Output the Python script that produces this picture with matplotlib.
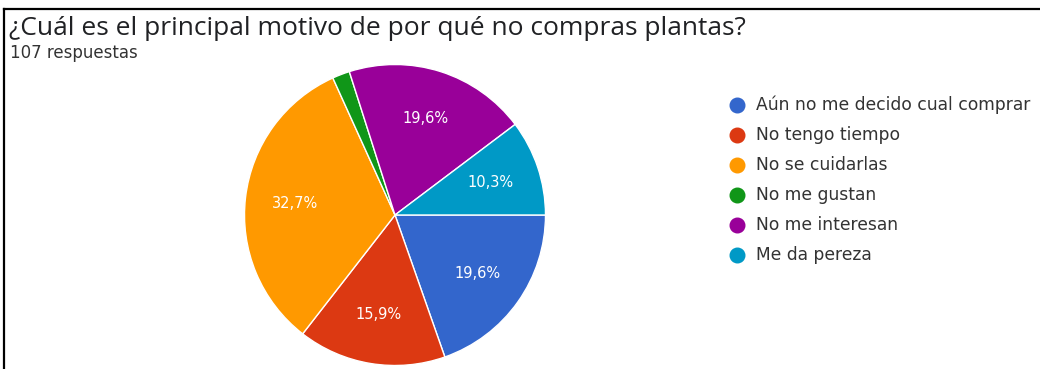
import matplotlib
matplotlib.use("Agg")
import matplotlib.pyplot as plt
from matplotlib.lines import Line2D

# respuestas de la encuesta
motivos = ['Aún no me decido cual comprar', 'No tengo tiempo', 'No se cuidarlas',
           'No me gustan', 'No me interesan', 'Me da pereza']
respuestas = [21, 17, 35, 2, 21, 11]
colores = ['#3366CC', '#DC3912', '#FF9900', '#109618', '#990099', '#0099C6']

titulo = '¿Cuál es el principal motivo de por qué no compras plantas?'
subtitulo = '107 respuestas'

W, H = 1040, 369
fig = plt.figure(figsize=(W / 100, H / 100), dpi=100)
fig.patch.set_facecolor('white')


def px(x, y):
    # pixeles (desde arriba a la izquierda) -> coordenadas de figura
    return x / W, 1 - y / H


# marco negro arriba y a la izquierda
fig.add_artist(Line2D([4 / W, 4 / W], [0, 1 - 9 / H], color='black', lw=1.6,
                      transform=fig.transFigure))
fig.add_artist(Line2D([4 / W, 1], [1 - 9 / H, 1 - 9 / H], color='black', lw=1.6,
                      transform=fig.transFigure))

fig.text(*px(9, 35), titulo, fontsize=19, family='Open Sans',
         color='#202124', va='baseline')
fig.text(*px(10, 58), subtitulo, fontsize=12, family='DejaVu Sans',
         color='#333333', va='baseline')

# tarta
cx, cy, r = 395, 215, 152
ax = fig.add_axes([(cx - r) / W, (H - cy - r) / H, 2 * r / W, 2 * r / H])


def etiqueta(p):
    if p < 5:
        return ''
    return f'{p:.1f}%'.replace('.', ',')


wedges, _, autotexts = ax.pie(respuestas, colors=colores, startangle=0,
                              counterclock=False, autopct=etiqueta,
                              pctdistance=0.67, radius=1,
                              wedgeprops=dict(edgecolor='white', linewidth=1))
for t in autotexts:
    t.set_color('white')
    t.set_fontsize(10.5)
    t.set_family('DejaVu Sans')
ax.set_xlim(-1.01, 1.01)
ax.set_ylim(-1.01, 1.01)
ax.set_aspect('equal')
ax.axis('off')

# leyenda
for i, (m, c) in enumerate(zip(motivos, colores)):
    y = 105 + 30 * i
    fig.add_artist(Line2D([737 / W], [1 - y / H], marker='o', markersize=10.5,
                          color=c, transform=fig.transFigure))
    fig.text(*px(756, y), m, fontsize=12.3, family='DejaVu Sans',
             color='#333333', va='center')

fig.savefig('out.png', dpi=100, facecolor='white')
